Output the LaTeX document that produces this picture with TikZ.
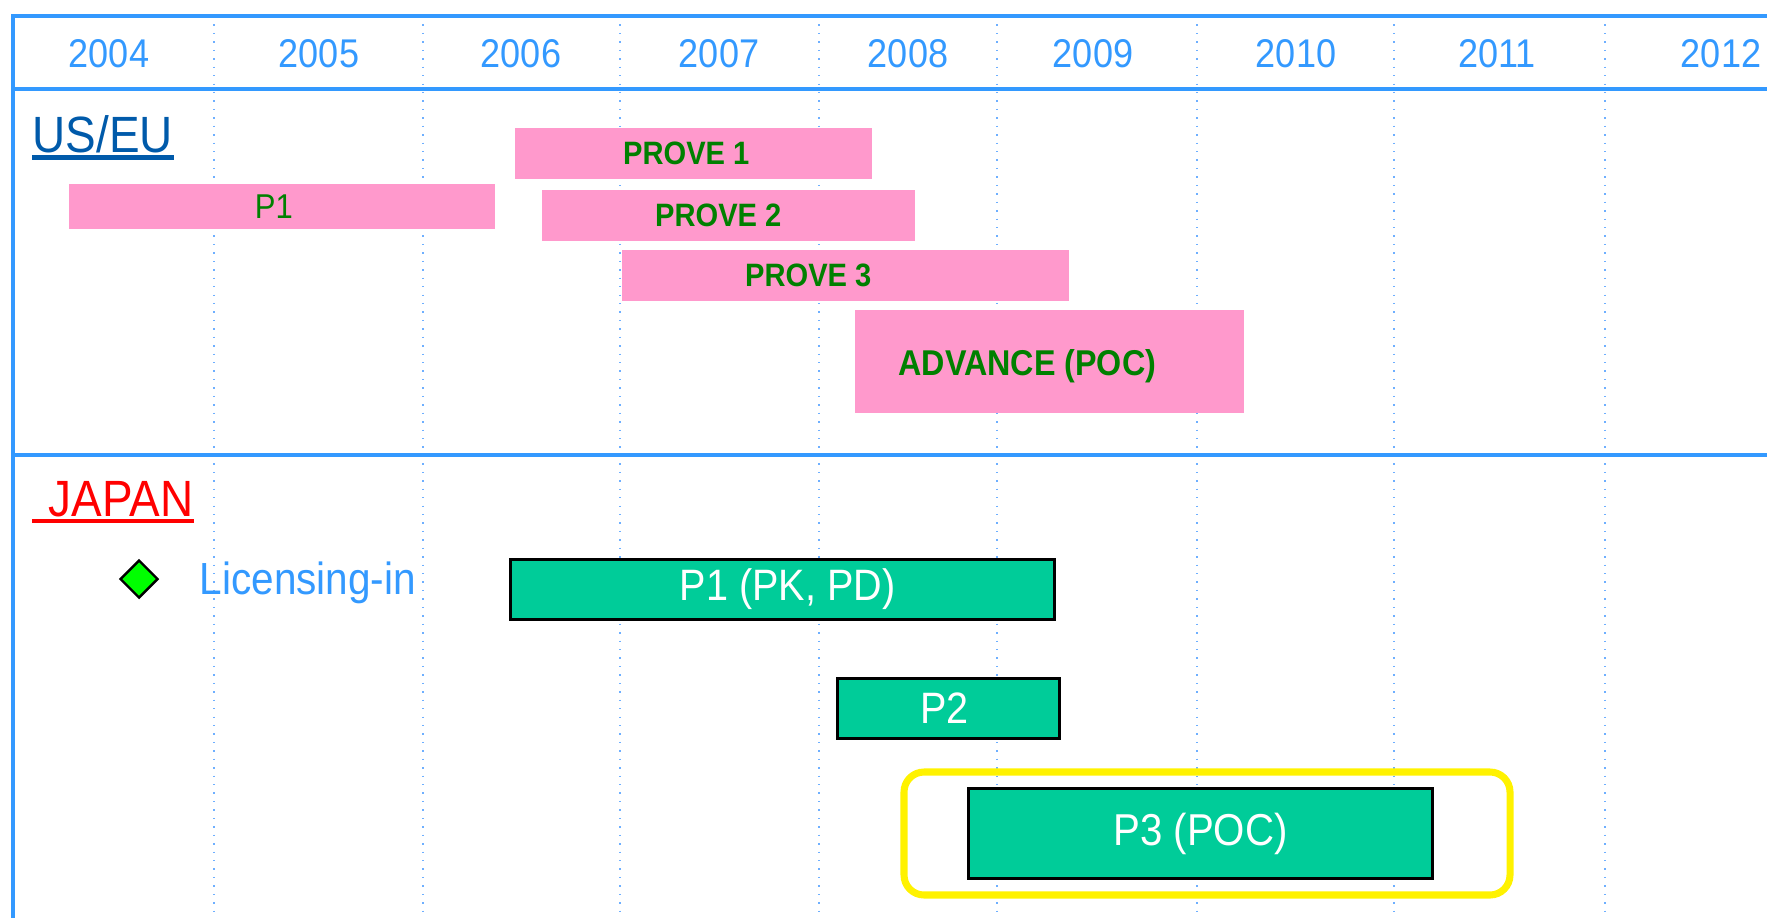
\documentclass[tikz,border=0pt]{standalone}
\usepackage{fontspec}
\setmainfont[FakeStretch=0.9]{Liberation Sans}
\usetikzlibrary{shapes.geometric}
\definecolor{frameblue}{RGB}{51,153,255}
\definecolor{gridblue}{RGB}{110,175,255}
\definecolor{titleblue}{RGB}{0,90,170}
\definecolor{barpink}{RGB}{255,153,204}
\definecolor{bargreen}{RGB}{0,204,153}
\definecolor{textgreen}{RGB}{0,128,0}
\tikzset{
  frame/.style={frameblue,line width=1.15pt},
  gridline/.style={gridblue,dotted,line width=0.4pt},
  year/.style={frameblue,font=\fontsize{11.4pt}{13pt}\selectfont},
  region/.style={anchor=base west,inner sep=0pt,font=\fontsize{14.5pt}{16pt}\selectfont},
  pinkbar/.style={fill=barpink,anchor=north west,inner sep=0pt,text=textgreen,font=\bfseries\fontsize{9.2pt}{11pt}\selectfont},
  greenbar/.style={fill=bargreen,draw=black,line width=0.8pt,anchor=north west,inner sep=0pt,text=white,font=\fontsize{12.5pt}{14pt}\selectfont},
}
\begin{document}
\begin{tikzpicture}[x=0.01cm,y=-0.01cm]
\useasboundingbox (0,0) rectangle (1767,918);
\foreach \x in {214,423,620,819,997,1197,1394,1605}
  \draw[gridline] (\x,16) -- (\x,918);
\draw[frame] (1767,16) -- (13,16) -- (13,918);
\draw[frame] (13,89) -- (1767,89);
\draw[frame] (13,455) -- (1767,455);
\foreach \x/\yr in {109/2004,319/2005,521/2006,719/2007,908/2008,1093/2009,1296/2010,1497/2011,1721/2012}
  \node[year] (y\yr) at (\x,54) {\yr};

\node[region,titleblue] (useu) at (32,152) {US/EU};
\draw[titleblue,line width=1.3pt] ([yshift=-0.055cm]useu.base west) -- ([yshift=-0.055cm]useu.base east);
\node[pinkbar,minimum width=3.57cm,minimum height=0.51cm] (prove1) at (514,127) {PROVE 1\hspace*{0.14cm}};
\node[pinkbar,minimum width=4.26cm,minimum height=0.45cm,font=\fontsize{9.8pt}{11pt}\selectfont] (p1us) at (68,183) {P1\hspace*{0.16cm}};
\node[pinkbar,minimum width=3.73cm,minimum height=0.51cm] (prove2) at (541,189) {PROVE 2\hspace*{0.2cm}};
\node[pinkbar,minimum width=4.47cm,minimum height=0.51cm] (prove3) at (621,249) {PROVE 3\hspace*{0.74cm}};
\node[pinkbar,minimum width=3.89cm,minimum height=1.03cm,font=\bfseries\fontsize{10.2pt}{12pt}\selectfont] (advance) at (854,309) {\raisebox{-0.05cm}[\height][\depth]{ADVANCE (POC)}\hspace*{0.44cm}};

\node[region,red] (japan) at (32,516) {\hspace*{0.16cm}JAPAN};
\draw[red,line width=1.3pt] ([yshift=-0.05cm]japan.base west) -- ([yshift=-0.05cm]japan.base east);
\node[diamond,draw=black,fill=green,line width=0.7pt,minimum size=0.38cm,inner sep=0pt] (lic) at (139,579) {};
\node[region,frameblue,font=\fontsize{12.8pt}{14pt}\selectfont] (lictext) at (199,594) {Licensing-in};
\node[greenbar,minimum width=5.44cm,minimum height=0.6cm] (p1jp) at (509,558) {\hspace*{0.1cm}P1 (PK, PD)};
\node[greenbar,minimum width=2.22cm,minimum height=0.6cm] (p2jp) at (836,677) {P2\hspace*{0.08cm}};
\node[greenbar,minimum width=4.64cm,minimum height=0.9cm,font=\fontsize{12.7pt}{14pt}\selectfont] (p3jp) at (967,787) {P3 (POC)};
\draw[yellow,line width=2pt,rounded corners=0.2cm] (904,772) rectangle (1510,895);
\end{tikzpicture}
\end{document}
